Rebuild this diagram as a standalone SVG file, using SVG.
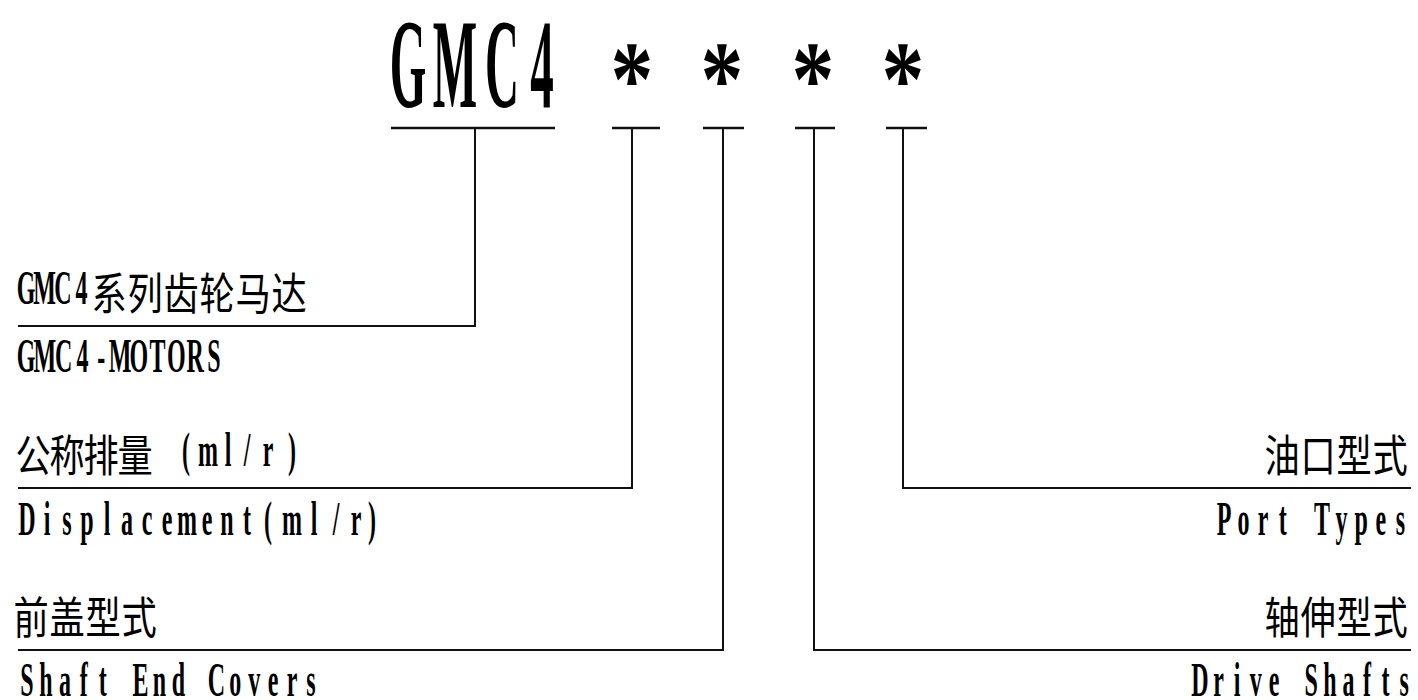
<svg xmlns="http://www.w3.org/2000/svg" width="1418" height="700" viewBox="0 0 1418 700">
<style>
.lat{font-family:"Liberation Serif","Times New Roman",serif;font-size:48px;font-weight:bold;fill:#000;text-anchor:middle}
.cjk{font-family:"Noto Sans CJK SC","Noto Sans CJK JP",sans-serif;font-size:44px;fill:#000;text-anchor:middle}
.title{font-family:"Liberation Serif","Times New Roman",serif;font-size:127px;font-weight:bold;fill:#000;text-anchor:middle}
.ast{font-family:"Liberation Serif","Times New Roman",serif;font-size:107px;font-weight:bold;fill:#000;text-anchor:middle}
.ln{fill:none;stroke:#111;stroke-width:2}
.ul{fill:none;stroke:#111;stroke-width:2.5}
</style>
<rect width="1418" height="700" fill="#fff"/>
<g id="code">
<text class="title" transform="translate(0,107) scale(0.37,1)" x="1102.7 1229.7 1356.8 1464.9">GMC4</text>
<text class="ast" transform="translate(0,116) scale(0.8,1)" x="790 902.5 1016.25 1128.75">****</text>
<path class="ul" d="M391 128H555M612 128H660M703 128H744M795 128H835M886 128H927"/>
</g>
<g id="connectors">
<polyline class="ln" points="475,128 475,326 18,326"/>
<polyline class="ln" points="632,128 632,488 18,488"/>
<polyline class="ln" points="723,128 723,650 18,650"/>
<polyline class="ln" points="814,128 814,650 1411,650"/>
<polyline class="ln" points="903,128 903,488 1411,488"/>
</g>
<g id="series">
<text class="lat" transform="translate(0,304) scale(0.5,1)" x="52 89 126 163">GMC4</text>
<text class="cjk" transform="translate(0,310) scale(0.8,1)" x="136.25 181.25 226.25 271.25 316.25 361.25">系列齿轮马达</text>
<text class="lat" transform="translate(0,372) scale(0.5,1)" x="52 89.6 127.2 164.8 202.4 240 277.6 315.2 352.8 390.4 428">GMC4-MOTORS</text>
</g>
<g id="displacement">
<text class="cjk" transform="translate(0,472) scale(0.8,1)" x="41.25 83.75 126.25 168.75">公称排量</text>
<text class="lat" transform="translate(0,466) scale(0.5,1)" x="372 416 456 494 536 584">(ml/r)</text>
<text class="lat" transform="translate(0,535) scale(0.5,1)" x="54 94 134 174 214 254 294 334 374 414 454 494 536 584 628 672 712 744">Displacement(ml/r)</text>
</g>
<g id="cover">
<text class="cjk" transform="translate(0,634) scale(0.8,1)" x="38.75 83.75 128.75 173.75">前盖型式</text>
<text class="lat" transform="translate(0,696) scale(0.5,1)" x="54 91.8 129.8 167.6 205.4 243.4 281.2 319 356.8 394.8 432.6 470.4 508.4 546.2 584 622">Shaft End Covers</text>
</g>
<g id="port">
<text class="cjk" transform="translate(0,472) scale(0.8,1)" x="1602.5 1647.5 1692.5 1737.5">油口型式</text>
<text class="lat" transform="translate(0,535) scale(0.5,1)" x="2448 2487.2 2526.4 2565.6 2604.8 2644 2683.2 2722.4 2761.6 2800.8">Port Types</text>
</g>
<g id="shaft">
<text class="cjk" transform="translate(0,634) scale(0.8,1)" x="1602.5 1647.5 1692.5 1737.5">轴伸型式</text>
<text class="lat" transform="translate(0,696) scale(0.5,1)" x="2400 2437.1 2474.2 2511.3 2548.4 2585.5 2622.6 2659.7 2696.8 2733.9 2771 2808.1">Drive Shafts</text>
</g>
</svg>
